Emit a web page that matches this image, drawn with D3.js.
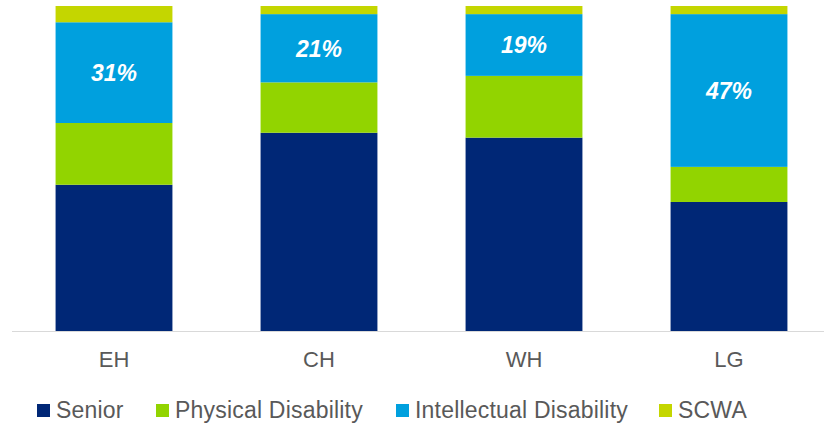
<!DOCTYPE html>
<html>
<head>
<meta charset="utf-8">
<script src="https://cdn.jsdelivr.net/npm/d3@7"></script>
<style>
  html, body { margin: 0; padding: 0; background: #fff; }
  svg { display: block; font-family: "Liberation Sans", Arial, sans-serif; }
</style>
</head>
<body>
<svg id="chart" width="824" height="427"></svg>
<script>
// Client mix by site (percent of each site's total)
const sites = ["EH", "CH", "WH", "LG"];
const seriesNames = ["Senior", "Physical Disability", "Intellectual Disability", "SCWA"];
const senior = [45, 61, 59.5, 39.7];
const physicalDisability = [19, 15.5, 19, 10.8];
const intellectualDisability = [31, 21, 19, 47];
const scwa = [5, 2.5, 2.5, 2.5];
const seriesColors = ["#002776", "#92d400", "#00a0de", "#c4d600"];

const rows = sites.map((s, i) => ({
  site: s,
  "Senior": senior[i],
  "Physical Disability": physicalDisability[i],
  "Intellectual Disability": intellectualDisability[i],
  "SCWA": scwa[i]
}));

const svg = d3.select("#chart");
const baseY = 331, topY = 6;

const x = d3.scaleBand().domain(sites).range([11.5, 831.5])
  .paddingInner(0.43).paddingOuter(0.215);
const y = d3.scaleLinear().domain([0, 100]).range([baseY, topY]);
const color = d3.scaleOrdinal().domain(seriesNames).range(seriesColors);

const stacked = d3.stack().keys(seriesNames)(rows);

// Stacked bars
svg.append("g").selectAll("g").data(stacked).join("g")
  .attr("fill", d => color(d.key))
  .selectAll("rect").data(d => d).join("rect")
  .attr("x", d => x(d.data.site))
  .attr("width", x.bandwidth())
  .attr("y", d => y(d[1]))
  .attr("height", d => y(d[0]) - y(d[1]));

// Baseline
svg.append("line")
  .attr("x1", 12).attr("x2", 824)
  .attr("y1", baseY + 0.5).attr("y2", baseY + 0.5)
  .attr("stroke", "#d9d9d9").attr("stroke-width", 1);

// Category axis labels
const xAxis = svg.append("g")
  .attr("transform", `translate(0,${baseY})`)
  .call(d3.axisBottom(x).tickSize(0).tickPadding(20));
xAxis.select(".domain").remove();
xAxis.selectAll("text")
  .attr("font-family", "Liberation Sans, Arial, sans-serif")
  .attr("font-size", 22)
  .attr("fill", "#595959");

// Intellectual Disability share labels
const idLayer = stacked.find(s => s.key === "Intellectual Disability");
svg.append("g").selectAll("text").data(idLayer).join("text")
  .attr("x", d => x(d.data.site) + x.bandwidth() / 2)
  .attr("y", d => (y(d[0]) + y(d[1])) / 2)
  .attr("dy", "0.36em")
  .attr("text-anchor", "middle")
  .attr("font-size", 23)
  .attr("font-weight", "bold")
  .attr("font-style", "italic")
  .attr("fill", "#fff")
  .text(d => d.data["Intellectual Disability"] + "%");

// Legend
const legendX = [37, 156, 396, 659];
const legend = svg.append("g").selectAll("g").data(seriesNames).join("g")
  .attr("transform", (d, i) => `translate(${legendX[i]},404)`);
legend.append("rect")
  .attr("width", 13).attr("height", 13)
  .attr("fill", d => color(d));
legend.append("text")
  .attr("x", 19).attr("y", 14)
  .attr("font-size", 23)
  .attr("letter-spacing", 0.2)
  .attr("fill", "#595959")
  .text(d => d);
</script>
</body>
</html>
